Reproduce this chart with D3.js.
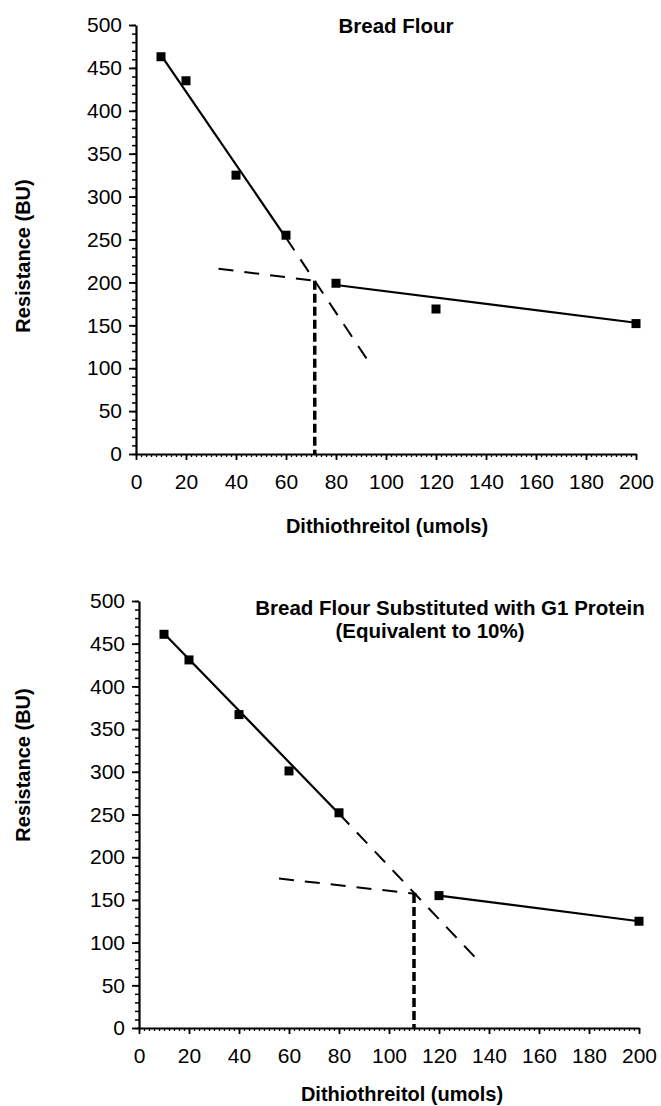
<!DOCTYPE html>
<html>
<head>
<meta charset="utf-8">
<script src="https://cdn.jsdelivr.net/npm/d3@7"></script>
<style>
  body { margin: 0; background: #fff; }
  text { font-family: "Liberation Sans", Arial, sans-serif; fill: #000; }
</style>
</head>
<body>
<script>
// tick values
const xTicks = [0, 20, 40, 60, 80, 100, 120, 140, 160, 180, 200];
const yTicks = [0, 50, 100, 150, 200, 250, 300, 350, 400, 450, 500];

// Bread Flour
const breadDose = [10, 20, 40, 60, 80, 120, 200];
const breadResistance = [463, 435, 325, 255, 199, 169, 152];
const breadSteepSolid = [[10, 465], [60, 252]];
const breadSteepDashed = [[60, 252], [92.5, 110]];
const breadFlatSolid = [[80, 197], [200, 153]];
const breadFlatDashed = [[33, 216], [71, 202]];
const breadBreak = [[71.5, 202], [71.5, 0]];

// Bread Flour + G1 protein
const g1Dose = [10, 20, 40, 60, 80, 120, 200];
const g1Resistance = [461, 431, 367, 301, 252, 155, 125];
const g1SteepSolid = [[10, 462], [80, 251]];
const g1SteepDashed = [[80, 251], [135, 81]];
const g1FlatSolid = [[120, 155], [200, 125]];
const g1FlatDashed = [[56, 175], [111, 157]];
const g1Break = [[110, 157], [110, 0]];

const width = 661;
const height = 1106;

const svg = d3.select('body').append('svg')
  .attr('width', width)
  .attr('height', height);

function drawPanel(p) {
  const x = d3.scaleLinear().domain([0, 200]).range([p.left, p.right]);
  const y = d3.scaleLinear().domain([0, 500]).range([p.bottom, p.top]);
  const g = svg.append('g');

  // minor ticks
  g.append('g')
    .attr('transform', `translate(0,${p.bottom})`)
    .call(d3.axisBottom(x).tickValues(d3.range(0, 201, 2)).tickSize(3).tickSizeOuter(0).tickFormat(''))
    .call(a => a.select('.domain').remove())
    .selectAll('line').attr('stroke-width', 1.3);
  g.append('g')
    .attr('transform', `translate(${p.left},0)`)
    .call(d3.axisLeft(y).tickValues(d3.range(0, 501, 10)).tickSize(4).tickSizeOuter(0).tickFormat(''))
    .call(a => a.select('.domain').remove())
    .selectAll('line').attr('stroke-width', 1.5);

  // major ticks + labels
  const xAxis = g.append('g')
    .attr('transform', `translate(0,${p.bottom})`)
    .call(d3.axisBottom(x).tickValues(xTicks).tickSize(6).tickSizeOuter(0).tickPadding(14));
  const yAxis = g.append('g')
    .attr('transform', `translate(${p.left},0)`)
    .call(d3.axisLeft(y).tickValues(yTicks).tickSize(7).tickSizeOuter(0).tickPadding(7));

  [xAxis, yAxis].forEach(a => {
    a.select('.domain').attr('stroke-width', 2.2);
    a.selectAll('.tick line').attr('stroke-width', 1.8);
    a.selectAll('text')
      .style('font-family', '"Liberation Sans", Arial, sans-serif')
      .style('font-size', '21px');
  });

  const line = d3.line().x(d => x(d[0])).y(d => y(d[1]));

  // fit lines
  [p.steepSolid, p.flatSolid].forEach(seg => {
    g.append('path').attr('d', line(seg))
      .attr('fill', 'none').attr('stroke', '#000').attr('stroke-width', 2.2);
  });
  [p.steepDashed, p.flatDashed].forEach(seg => {
    g.append('path').attr('d', line(seg))
      .attr('fill', 'none').attr('stroke', '#000').attr('stroke-width', 2)
      .attr('stroke-dasharray', '15,11');
  });
  g.append('path').attr('d', line(p.breakLine))
    .attr('fill', 'none').attr('stroke', '#000').attr('stroke-width', 3.5)
    .attr('stroke-dasharray', '9,4');

  // points
  const s = 9;
  g.selectAll('rect.pt')
    .data(p.dose.map((d, i) => [d, p.resistance[i]]))
    .enter()
    .append('rect')
    .attr('class', 'pt')
    .attr('x', d => x(d[0]) - s / 2)
    .attr('y', d => y(d[1]) - s / 2)
    .attr('width', s)
    .attr('height', s)
    .attr('fill', '#000');

  // titles
  p.title.forEach((t) => {
    g.append('text')
      .attr('x', t.x)
      .attr('y', t.y)
      .attr('text-anchor', 'middle')
      .style('font-size', '20.5px')
      .style('font-weight', 'bold')
      .text(t.text);
  });

  g.append('text')
    .attr('x', p.xTitleX)
    .attr('y', p.xTitleY)
    .attr('text-anchor', 'middle')
    .style('font-size', '20px')
    .style('font-weight', 'bold')
    .text('Dithiothreitol (umols)');

  g.append('text')
    .attr('transform', `translate(30,${p.yTitleY}) rotate(-90)`)
    .attr('text-anchor', 'middle')
    .style('font-size', '20px')
    .style('font-weight', 'bold')
    .text('Resistance (BU)');
}

drawPanel({
  left: 136, right: 636, top: 25, bottom: 454,
  dose: breadDose,
  resistance: breadResistance,
  steepSolid: breadSteepSolid,
  steepDashed: breadSteepDashed,
  flatSolid: breadFlatSolid,
  flatDashed: breadFlatDashed,
  breakLine: breadBreak,
  title: [{ text: 'Bread Flour', x: 396, y: 33 }],
  xTitleX: 387, xTitleY: 533,
  yTitleY: 256,
});

drawPanel({
  left: 139, right: 639, top: 601, bottom: 1028,
  dose: g1Dose,
  resistance: g1Resistance,
  steepSolid: g1SteepSolid,
  steepDashed: g1SteepDashed,
  flatSolid: g1FlatSolid,
  flatDashed: g1FlatDashed,
  breakLine: g1Break,
  title: [
    { text: 'Bread Flour Substituted with G1 Protein', x: 450, y: 615 },
    { text: '(Equivalent to 10%)', x: 430, y: 638 },
  ],
  xTitleX: 402, xTitleY: 1101,
  yTitleY: 765,
});
</script>
</body>
</html>
